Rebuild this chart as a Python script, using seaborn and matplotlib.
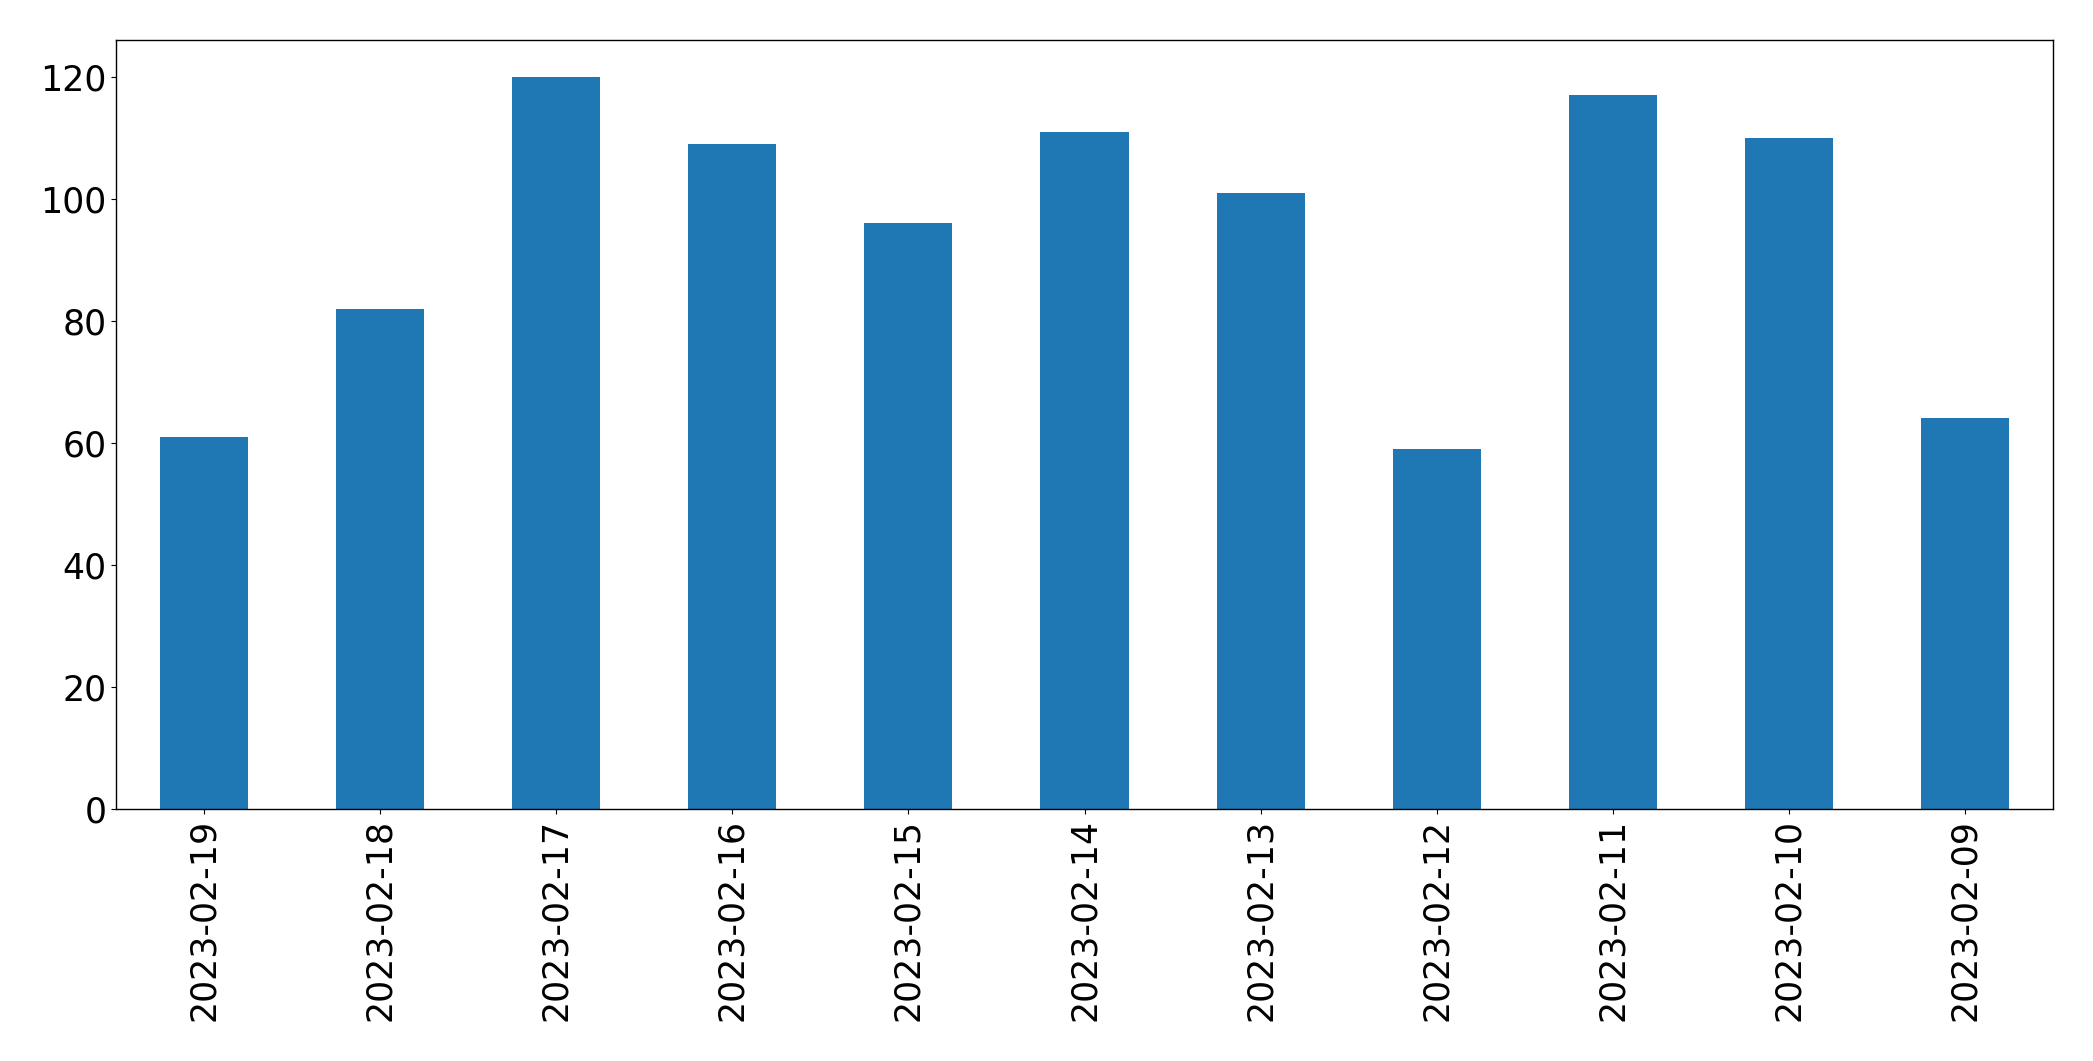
import seaborn as sns
import matplotlib.pyplot as plt
import pandas as pd

# dates as shown on the x axis (newest first)
dates = ['2023-02-19', '2023-02-18', '2023-02-17', '2023-02-16', '2023-02-15',
         '2023-02-14', '2023-02-13', '2023-02-12', '2023-02-11', '2023-02-10',
         '2023-02-09']
counts = [61, 82, 120, 109, 96, 111, 101, 59, 117, 110, 64]

df = pd.DataFrame({'date': dates, 'count': counts})

fig, ax = plt.subplots(figsize=(20.93, 10.61), dpi=100)
fig.subplots_adjust(left=116 / 2093, right=2053 / 2093, top=1 - 40 / 1061, bottom=1 - 809 / 1061)

sns.barplot(data=df, x='date', y='count', order=dates, color='#1f77b4',
            saturation=1, width=0.5, ax=ax)

ax.set_xlim(-0.5, len(dates) - 0.5)
ax.set_ylim(0, max(counts) * 1.05)
ax.set_xlabel('')
ax.set_ylabel('')
ax.tick_params(axis='both', labelsize=25, length=3.5)
ax.tick_params(axis='x', rotation=90)
for s in ax.spines.values():
    s.set_color('black')
    s.set_linewidth(1)

fig.savefig('out.png', dpi=100)
